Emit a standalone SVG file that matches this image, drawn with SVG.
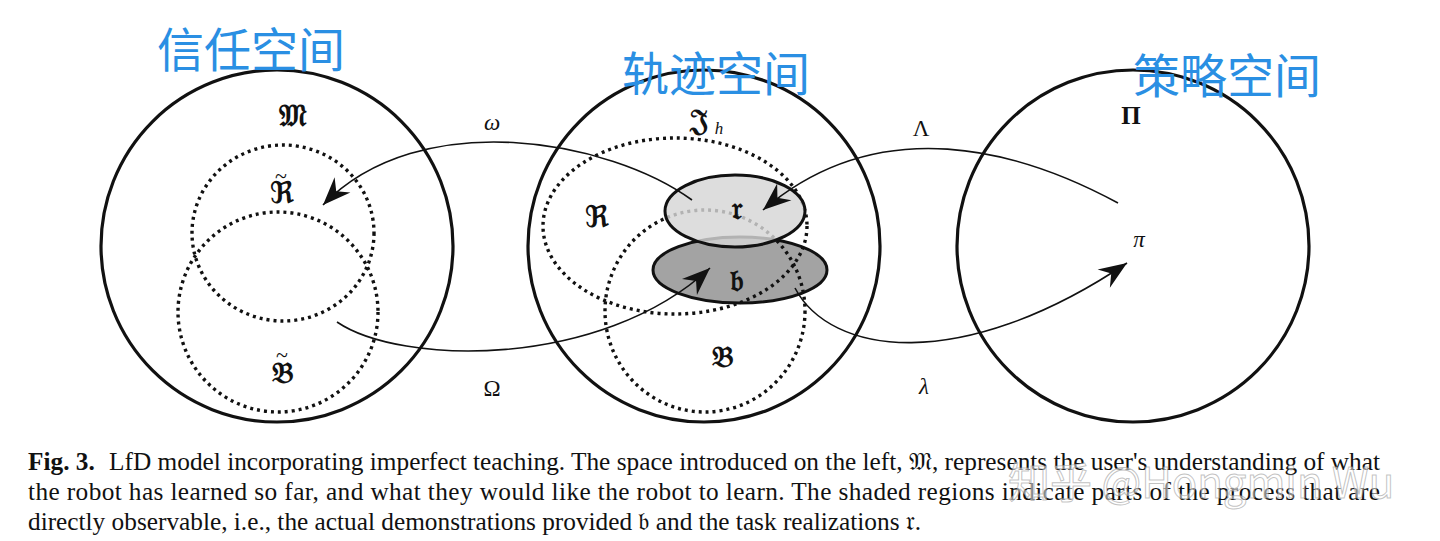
<svg xmlns="http://www.w3.org/2000/svg" width="1440" height="541" viewBox="0 0 1440 541">
<style>
.space{fill:none;stroke:#111;stroke-width:3.2}
.dot{fill:none;stroke:#111;stroke-width:3.4;stroke-dasharray:3 4}
.conn{fill:none;stroke:#111;stroke-width:1.6}
.frak{font-family:"DejaVu Serif","DejaVu Sans",serif;font-size:30px;font-weight:bold;fill:#111;text-anchor:middle}
.tilde{font-family:"Liberation Serif",serif;font-size:22px;fill:#111;text-anchor:middle}
.greek{font-family:"Liberation Serif","DejaVu Serif",serif;font-size:23px;fill:#111;text-anchor:middle}
.title{font-family:"Noto Sans CJK SC",sans-serif;font-size:47px;fill:#2a8fe3}
.cap{font-family:"Liberation Serif","Times New Roman",serif;font-size:25.3px;fill:#111}
</style>
<defs>
<marker id="arr" markerUnits="userSpaceOnUse" markerWidth="32" markerHeight="26" viewBox="-30 -13 32 26" refX="0" refY="0" orient="auto">
<path d="M0,0 L-28,-11 L-19,0 L-28,11 Z" fill="#111"/>
</marker>
</defs>
<rect width="1440" height="541" fill="#fff"/>

<g id="belief-space">
<circle class="space" cx="277" cy="246" r="176"/>
<ellipse class="dot" cx="283" cy="233" rx="91" ry="88"/>
<ellipse class="dot" cx="278" cy="312" rx="100" ry="100"/>
<text class="frak" x="293" y="126">𝔐</text>
<text class="tilde" x="281" y="183">~</text>
<text class="frak" x="282" y="203">ℜ</text>
<text class="tilde" x="282" y="362">~</text>
<text class="frak" x="283" y="383">𝔅</text>
</g>

<g id="trajectory-space">
<circle class="space" cx="704" cy="246" r="176"/>
<ellipse cx="740" cy="270" rx="87" ry="33" fill="#a3a3a3" stroke="#111" stroke-width="3"/>
<ellipse class="dot" cx="675" cy="226" rx="132" ry="88"/>
<ellipse class="dot" cx="705" cy="311" rx="100" ry="101"/>
<ellipse cx="735" cy="211" rx="70" ry="36" fill="#d6d6d6" fill-opacity="0.82" stroke="#111" stroke-width="3"/>
<text class="frak" x="699" y="130">𝔍</text>
<text class="greek" x="719" y="134" style="font-style:italic;font-size:17px">h</text>
<text class="frak" x="597" y="227">ℜ</text>
<text class="frak" x="737" y="219">𝔯</text>
<text class="frak" x="737" y="291">𝔟</text>
<text class="frak" x="723" y="367">𝔅</text>
</g>

<g id="policy-space">
<circle class="space" cx="1133" cy="246" r="176"/>
<text class="greek" x="1131" y="124" style="font-weight:bold;font-size:25px">Π</text>
<text class="greek" x="1139" y="247" style="font-style:italic">π</text>
</g>

<g id="connectors">
<path class="conn" d="M692,200 C610,140 420,105 323,205" marker-end="url(#arr)"/>
<path class="conn" d="M337,322 C400,365 600,370 710,268" marker-end="url(#arr)"/>
<path class="conn" d="M1118,203 C1020,150 880,110 763,210" marker-end="url(#arr)"/>
<path class="conn" d="M795,288 C830,355 960,375 1127,263" marker-end="url(#arr)"/>
<text class="greek" x="492" y="130" style="font-style:italic">ω</text>
<text class="greek" x="492" y="396">Ω</text>
<text class="greek" x="921" y="136">Λ</text>
<text class="greek" x="924" y="394" style="font-style:italic">λ</text>
</g>

<g id="titles">
<text class="title" x="157" y="67">信任空间</text>
<text class="title" x="622" y="91">轨迹空间</text>
<text class="title" x="1133" y="93">策略空间</text>
</g>

<g id="caption">
<text class="cap" x="28" y="470" textLength="1352" lengthAdjust="spacing"><tspan font-weight="bold">Fig. 3.</tspan><tspan dx="8"> LfD model incorporating imperfect teaching. The space introduced on the left, 𝔐, represents the user's understanding of what</tspan></text>
<text class="cap" x="28" y="500" textLength="1352" lengthAdjust="spacing">the robot has learned so far, and what they would like the robot to learn. The shaded regions indicate parts of the process that are</text>
<text class="cap" x="28" y="530">directly observable, i.e., the actual demonstrations provided 𝔟 and the task realizations 𝔯.</text>
<text x="1008" y="498" style="font-family:'Noto Sans CJK SC',sans-serif;font-size:42px;fill:#fff;fill-opacity:0.5;stroke:#999;stroke-opacity:0.6;stroke-width:1">知乎 @Hongmin Wu</text>
</g>
</svg>
